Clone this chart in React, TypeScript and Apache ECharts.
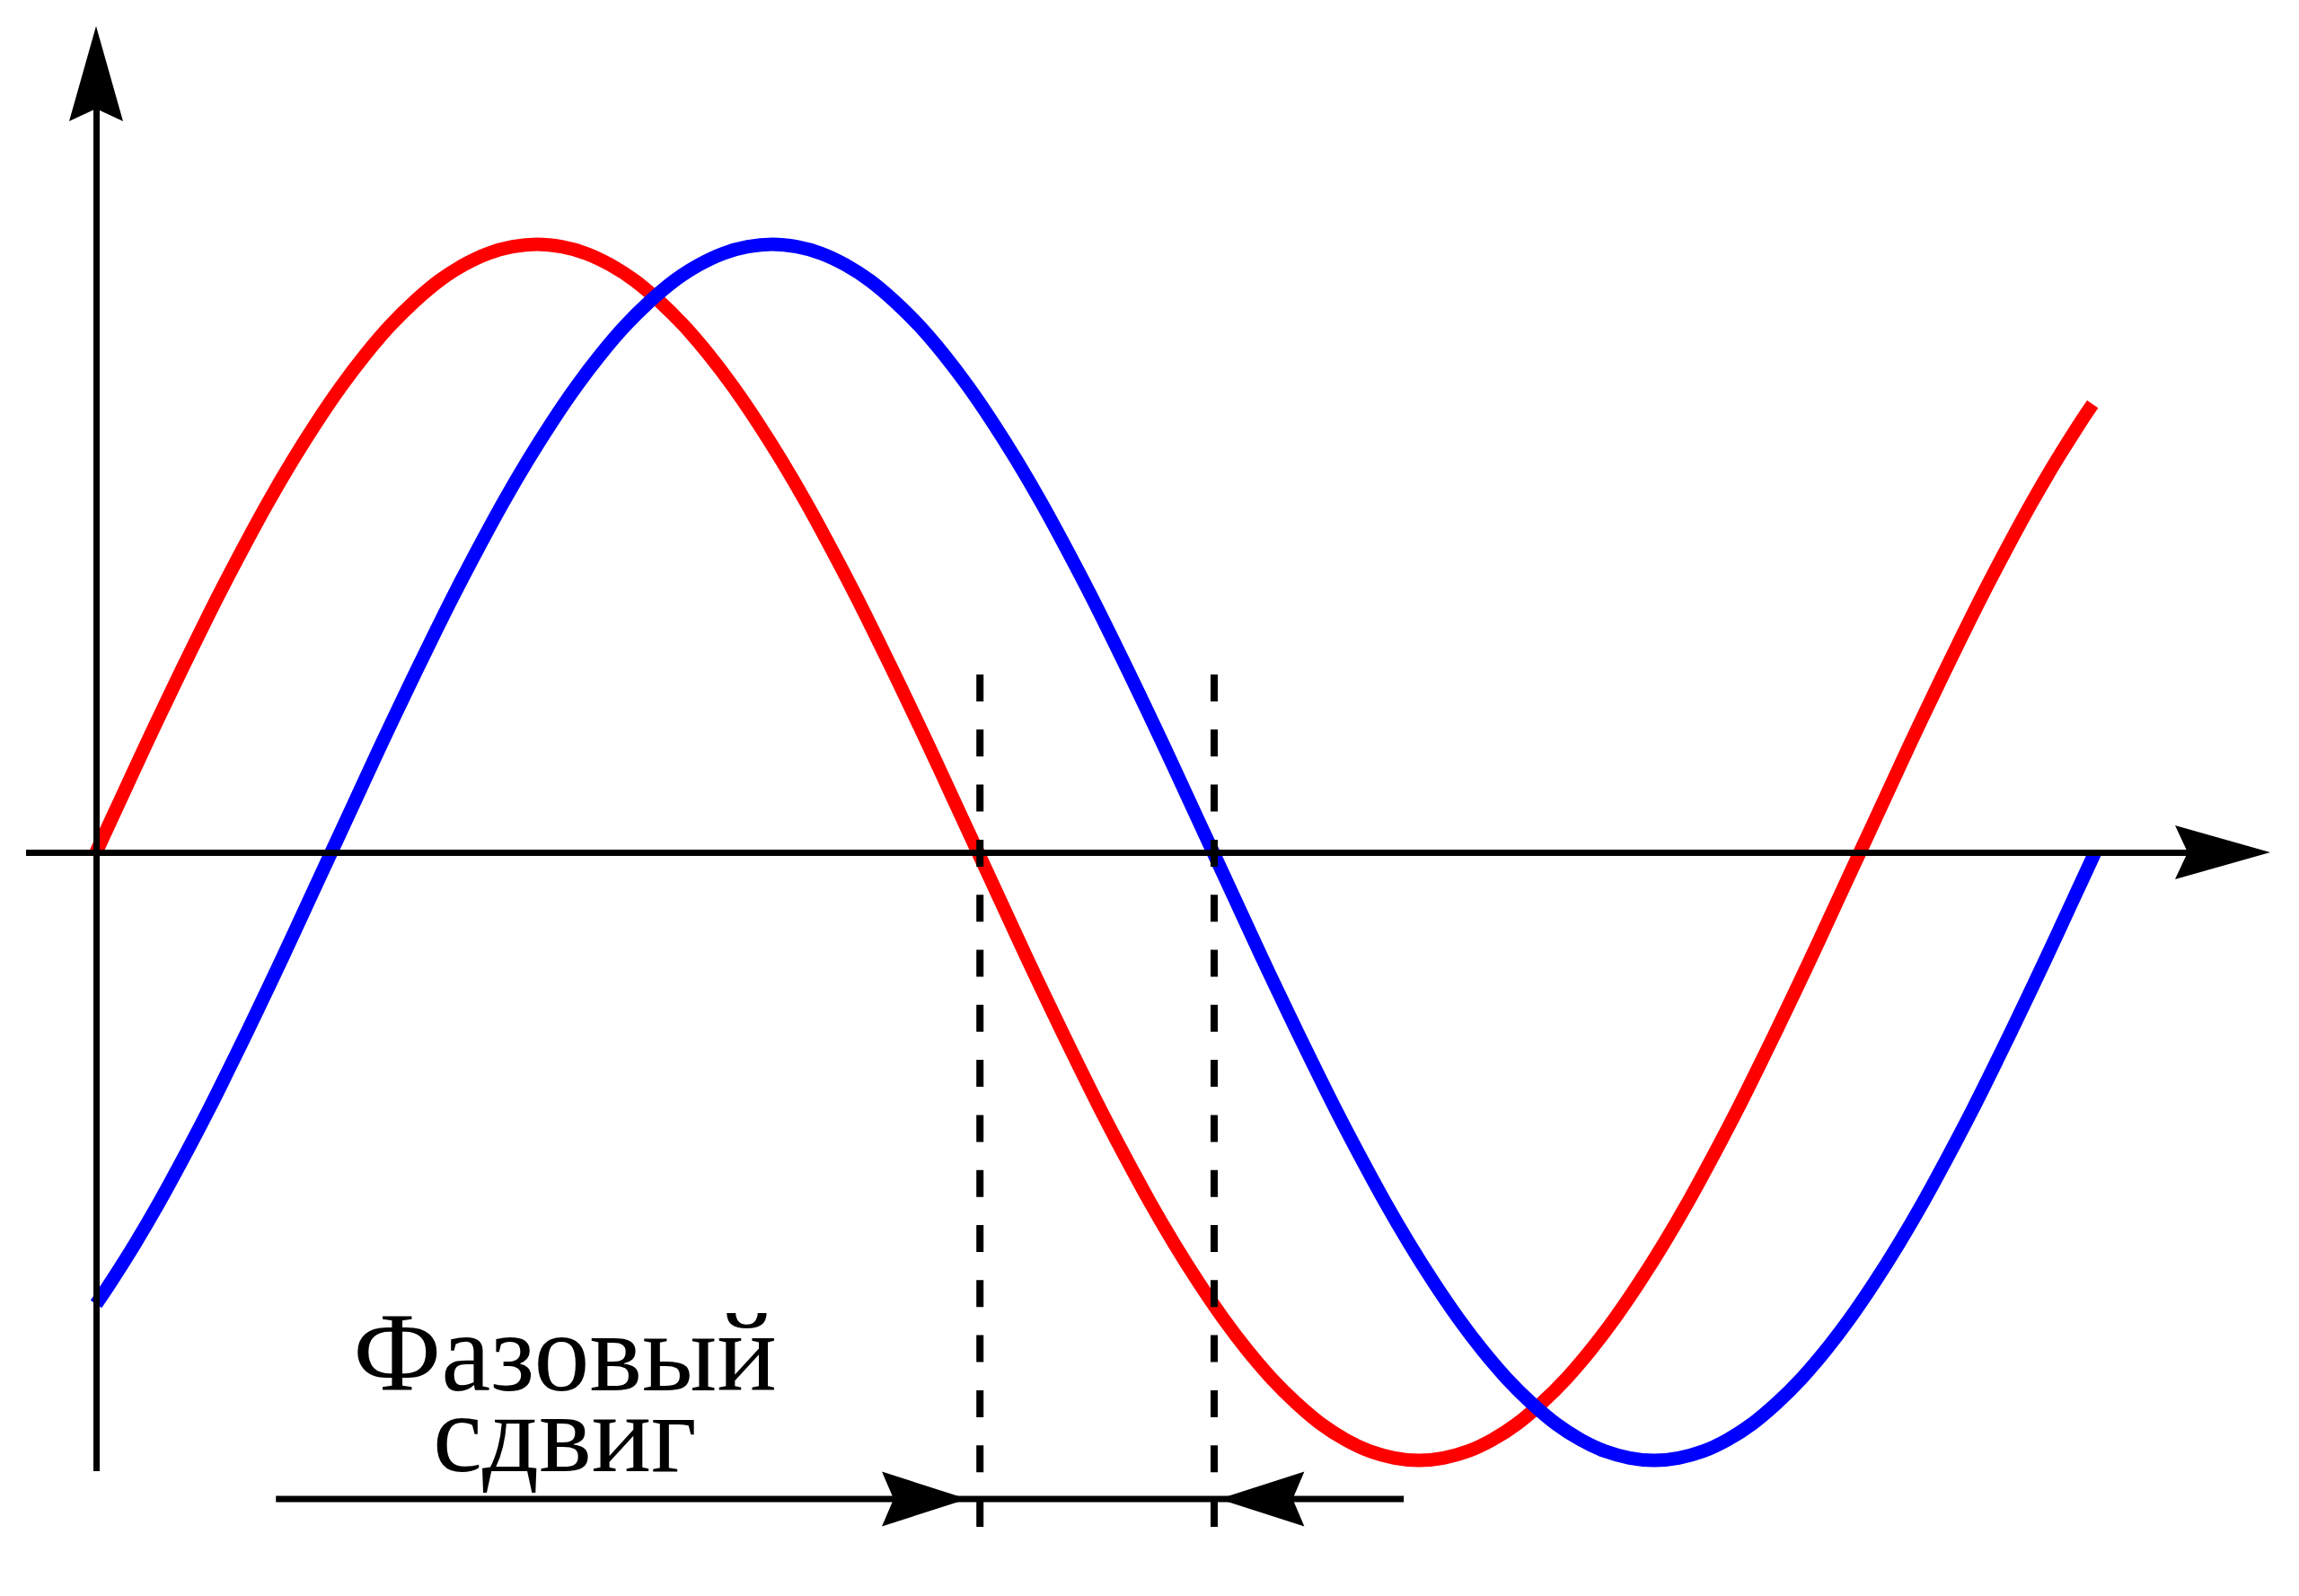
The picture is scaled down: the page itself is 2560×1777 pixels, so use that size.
import React, { useEffect, useRef } from "react";
import * as echarts from "echarts";

// Phase (degrees of the red wave) and amplitude (relative units)
const redX = [
  0, 5, 10, 15, 20, 25, 30, 35, 40, 45, 50, 55, 60, 65, 70, 75, 80, 85, 90,
  95, 100, 105, 110, 115, 120, 125, 130, 135, 140, 145, 150, 155, 160, 165, 170, 175, 180,
  185, 190, 195, 200, 205, 210, 215, 220, 225, 230, 235, 240, 245, 250, 255, 260, 265, 270,
  275, 280, 285, 290, 295, 300, 305, 310, 315, 320, 325, 330, 335, 340, 345, 350, 355, 360,
  365, 370, 375, 380, 385, 390, 395, 400, 405, 407.5,
];
const redY = [
  0, 0.087, 0.174, 0.259, 0.342, 0.423, 0.5, 0.574, 0.643, 0.707, 0.766, 0.819, 0.866, 0.906, 0.94, 0.966, 0.985, 0.996, 1,
  0.996, 0.985, 0.966, 0.94, 0.906, 0.866, 0.819, 0.766, 0.707, 0.643, 0.574, 0.5, 0.423, 0.342, 0.259, 0.174, 0.087, 0,
  -0.087, -0.174, -0.259, -0.342, -0.423, -0.5, -0.574, -0.643, -0.707, -0.766, -0.819, -0.866, -0.906, -0.94, -0.966, -0.985, -0.996, -1,
  -0.996, -0.985, -0.966, -0.94, -0.906, -0.866, -0.819, -0.766, -0.707, -0.643, -0.574, -0.5, -0.423, -0.342, -0.259, -0.174, -0.087, 0,
  0.087, 0.174, 0.259, 0.342, 0.423, 0.5, 0.574, 0.643, 0.707, 0.737,
];

const blueX = [
  0, 3, 8, 13, 18, 23, 28, 33, 38, 43, 48,
  53, 58, 63, 68, 73, 78, 83, 88, 93, 98, 103, 108, 113, 118, 123, 128, 133, 138,
  143, 148, 153, 158, 163, 168, 173, 178, 183, 188, 193, 198, 203, 208, 213, 218, 223, 228,
  233, 238, 243, 248, 253, 258, 263, 268, 273, 278, 283, 288, 293, 298, 303, 308, 313, 318,
  323, 328, 333, 338, 343, 348, 353, 358, 363, 368, 373, 378, 383, 388, 393, 398, 403, 408,
];
const blueY = [
  -0.743, -0.707, -0.643, -0.574, -0.5, -0.423, -0.342, -0.259, -0.174, -0.087, 0,
  0.087, 0.174, 0.259, 0.342, 0.423, 0.5, 0.574, 0.643, 0.707, 0.766, 0.819, 0.866, 0.906, 0.94, 0.966, 0.985, 0.996, 1,
  0.996, 0.985, 0.966, 0.94, 0.906, 0.866, 0.819, 0.766, 0.707, 0.643, 0.574, 0.5, 0.423, 0.342, 0.259, 0.174, 0.087, 0,
  -0.087, -0.174, -0.259, -0.342, -0.423, -0.5, -0.574, -0.643, -0.707, -0.766, -0.819, -0.866, -0.906, -0.94, -0.966, -0.985, -0.996, -1,
  -0.996, -0.985, -0.966, -0.94, -0.906, -0.866, -0.819, -0.766, -0.707, -0.643, -0.574, -0.5, -0.423, -0.342, -0.259, -0.174, -0.087, 0,
];

// Vertical dashed markers at the two zero crossings
const markerX = [180.4, 228.2];
const markerSpan = [0.2925, -1.1093];

// Phase-shift dimension line and its two arrowheads
const shiftBarX = [36.7, 266.9];
const shiftBarY = -1.0635;
const shiftArrowX = [169.1, 237.9];

const labelText = "Фазовый\nсдвиг";

const axisArrow = "path://M30,0L60,106L30,92L0,106Z";
const arrowRight = "path://M0,0L95,30.5L0,61L13,30.5Z";
const arrowLeft = "path://M95,0L0,30.5L95,61L82,30.5Z";

export default function App() {
  const ref = useRef<HTMLDivElement | null>(null);

  useEffect(() => {
    if (!ref.current) return;
    const chart = echarts.init(ref.current, undefined, { renderer: "svg" });

    const redData = redX.map((x, i) => [x, redY[i]]);
    const blueData = blueX.map((x, i) => [x, blueY[i]]);

    const markerSeries = markerX.map((x) => ({
      type: "line",
      data: [
        [x, markerSpan[0]],
        [x, markerSpan[1]],
      ],
      showSymbol: false,
      clip: false,
      z: 6,
      lineStyle: { color: "#000", width: 8, type: [30, 31.3], cap: "butt" },
      silent: true,
    }));

    const option: any = {
      animation: false,
      backgroundColor: "#ffffff",
      grid: { left: 29, top: 82, width: 2446, height: 1556, containLabel: false },
      xAxis: {
        type: "value",
        min: -14.297,
        max: 434.04,
        z: 5,
        axisLine: {
          show: true,
          onZero: true,
          symbol: ["none", axisArrow],
          symbolSize: [60, 106],
          lineStyle: { color: "#000", width: 7, cap: "butt" },
        },
        axisTick: { show: false },
        axisLabel: { show: false },
        splitLine: { show: false },
      },
      yAxis: {
        type: "value",
        min: -1.01773,
        max: 1.28065,
        z: 5,
        axisLine: {
          show: true,
          onZero: true,
          symbol: ["none", axisArrow],
          symbolSize: [60, 106],
          lineStyle: { color: "#000", width: 7, cap: "butt" },
        },
        axisTick: { show: false },
        axisLabel: { show: false },
        splitLine: { show: false },
      },
      series: [
        {
          type: "line",
          data: redData,
          smooth: 0.33,
          showSymbol: false,
          clip: false,
          z: 2,
          lineStyle: { color: "#ff0000", width: 15, cap: "butt", join: "round" },
          silent: true,
        },
        {
          type: "line",
          data: blueData,
          smooth: 0.33,
          showSymbol: false,
          clip: false,
          z: 3,
          lineStyle: { color: "#0000ff", width: 15, cap: "butt", join: "round" },
          silent: true,
        },
        ...markerSeries,
        {
          type: "line",
          data: shiftBarX.map((x) => [x, shiftBarY]),
          showSymbol: false,
          clip: false,
          z: 7,
          lineStyle: { color: "#000", width: 7, cap: "butt" },
          silent: true,
        },
        {
          type: "scatter",
          clip: false,
          z: 8,
          silent: true,
          symbolSize: [95, 61],
          itemStyle: { color: "#000", opacity: 1 },
          data: [
            { value: [shiftArrowX[0], shiftBarY], symbol: arrowRight },
            { value: [shiftArrowX[1], shiftBarY], symbol: arrowLeft },
          ],
        },
      ],
      graphic: [
        {
          type: "text",
          x: 629,
          y: 1551,
          silent: true,
          style: {
            text: labelText,
            fontFamily: "Liberation Serif",
            fontSize: 124,
            lineHeight: 90,
            fill: "#000",
            align: "center",
            verticalAlign: "middle",
          },
        },
      ],
    };

    chart.setOption(option);
    return () => chart.dispose();
  }, []);

  return (
    <div
      ref={ref}
      style={{ position: "absolute", left: 0, top: 0, width: 2560, height: 1777, background: "#fff" }}
    />
  );
}
